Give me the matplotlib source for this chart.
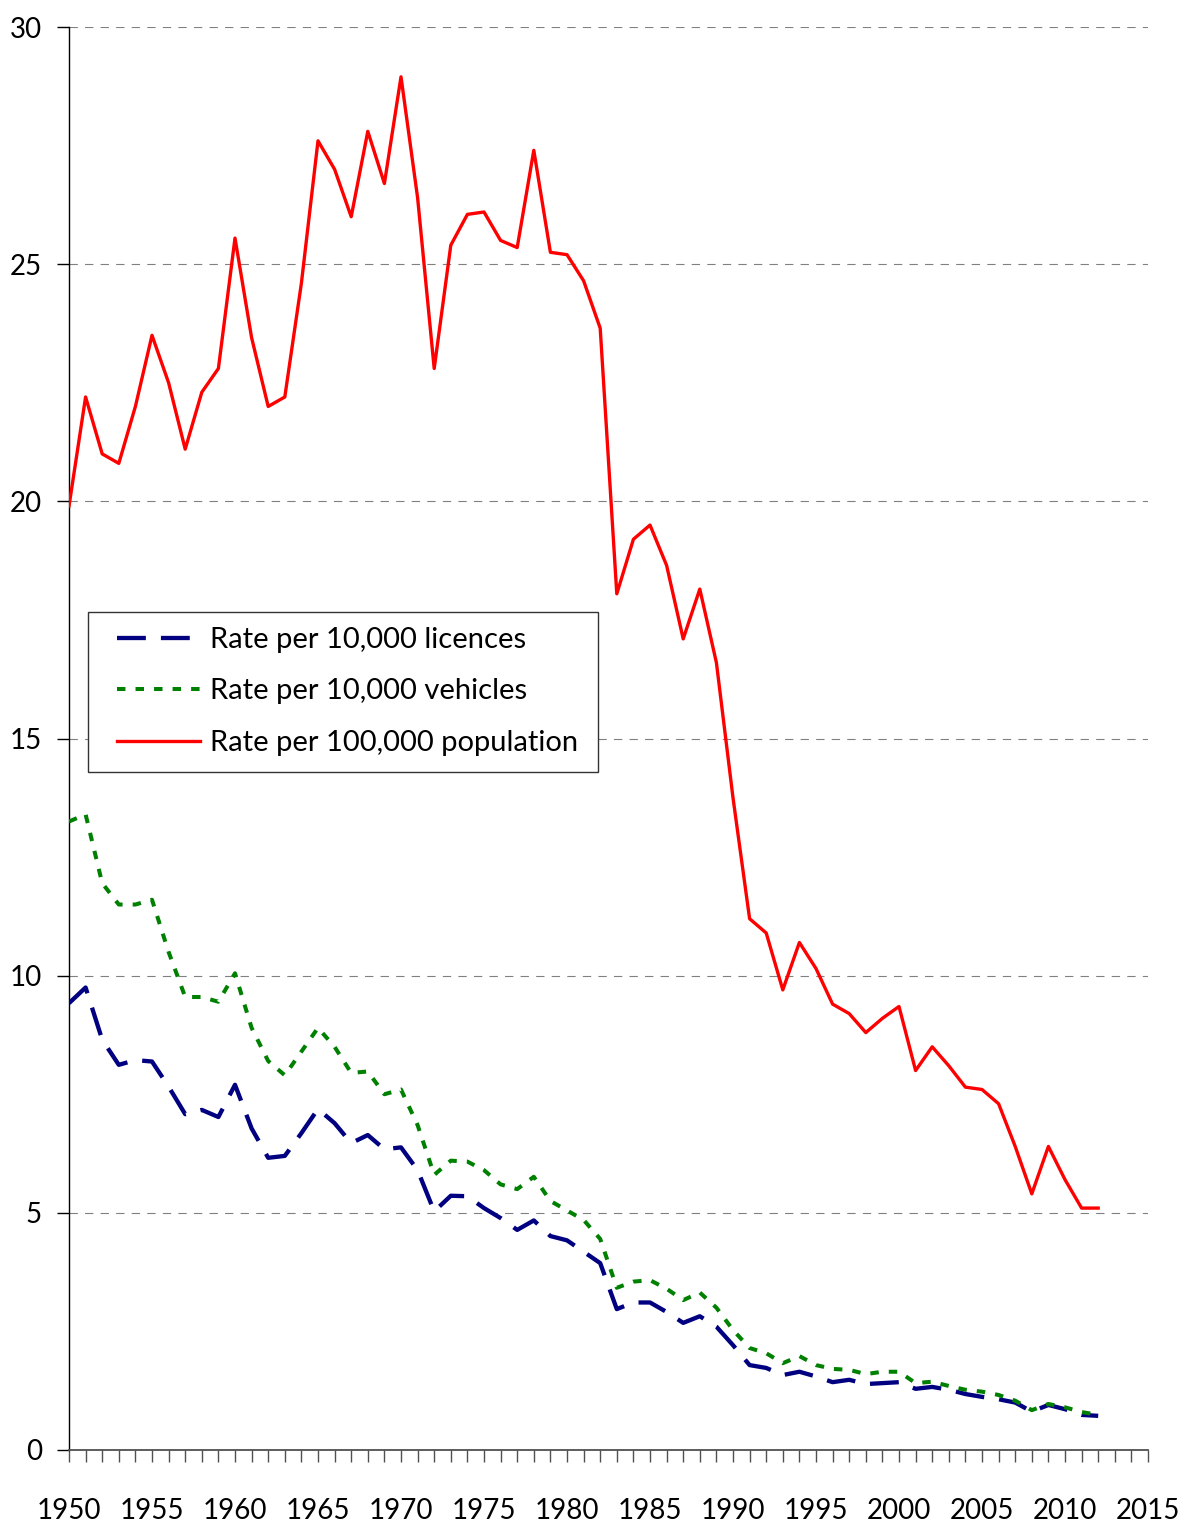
import matplotlib
matplotlib.use("Agg")
import matplotlib.pyplot as plt
from matplotlib.ticker import MultipleLocator
from matplotlib.patches import Rectangle

plt.rcParams['font.family'] = ['Lato', 'DejaVu Sans']

years = list(range(1950, 2013))

licences = [9.42, 9.75, 8.65, 8.12, 8.22, 8.19, 7.66, 7.08, 7.17, 7.02,
            7.70, 6.78, 6.16, 6.20, 6.68, 7.19, 6.89, 6.47, 6.64, 6.34,
            6.38, 5.90, 5.03, 5.36, 5.35, 5.10, 4.89, 4.64, 4.84, 4.51,
            4.42, 4.18, 3.94, 2.97, 3.11, 3.11, 2.91, 2.68, 2.82, 2.60,
            2.21, 1.79, 1.73, 1.58, 1.65, 1.55, 1.43, 1.48, 1.39, 1.41,
            1.43, 1.29, 1.33, 1.27, 1.18, 1.12, 1.07, 1.00, 0.81, 0.95,
            0.86, 0.74, 0.72]

vehicles = [13.25, 13.40, 11.95, 11.50, 11.50, 11.60, 10.50, 9.55, 9.55, 9.45,
            10.05, 8.90, 8.20, 7.90, 8.40, 8.90, 8.50, 7.95, 7.98, 7.50,
            7.60, 6.85, 5.80, 6.10, 6.08, 5.90, 5.60, 5.50, 5.76, 5.25,
            5.05, 4.85, 4.45, 3.42, 3.55, 3.58, 3.40, 3.16, 3.32, 3.00,
            2.53, 2.15, 2.04, 1.83, 1.98, 1.79, 1.71, 1.69, 1.60, 1.65,
            1.65, 1.41, 1.44, 1.35, 1.27, 1.23, 1.16, 1.04, 0.84, 0.97,
            0.90, 0.80, 0.74]

population = [19.9, 22.2, 21.0, 20.8, 22.0, 23.5, 22.5, 21.1, 22.3, 22.8,
              25.55, 23.45, 22.0, 22.2, 24.6, 27.6, 27.0, 26.0, 27.8, 26.7,
              28.95, 26.4, 22.8, 25.4, 26.05, 26.1, 25.5, 25.35, 27.4, 25.25,
              25.2, 24.65, 23.65, 18.05, 19.2, 19.5, 18.65, 17.1, 18.15, 16.6,
              13.75, 11.2, 10.9, 9.7, 10.7, 10.15, 9.4, 9.2, 8.8, 9.1,
              9.35, 8.0, 8.5, 8.1, 7.65, 7.6, 7.3, 6.4, 5.4, 6.4,
              5.7, 5.1, 5.1]

labels = ["Rate per 10,000 licences", "Rate per 10,000 vehicles",
          "Rate per 100,000 population"]

W, H = 1185, 1526
fig = plt.figure(figsize=(W / 100, H / 100), dpi=100)
L, R, T, B = 69, 1148, 27, 1450
ax = fig.add_axes([L / W, 1 - B / H, (R - L) / W, (B - T) / H])

ax.plot(years, licences, color='#000080', lw=3.1,
        linestyle=(0, (6.7, 3.5)), label=labels[0], zorder=3)
ax.plot(years, vehicles, color='#008000', lw=2.9,
        linestyle=(0, (2.1, 2.5)), label=labels[1], zorder=3)
ax.plot(years, population, color='#FF0000', lw=2.4,
        linestyle='-', label=labels[2], zorder=3)

ax.set_xlim(1950, 2015)
ax.set_ylim(0, 30)
ax.xaxis.set_major_locator(MultipleLocator(5))
ax.xaxis.set_minor_locator(MultipleLocator(1))
ax.yaxis.set_major_locator(MultipleLocator(5))

ax.yaxis.grid(True, color='#808080', lw=0.8, linestyle=(0, (7.5, 6.5)))
ax.set_axisbelow(True)

for s in ['top', 'right']:
    ax.spines[s].set_visible(False)
ax.spines['left'].set_color('black')
ax.spines['left'].set_linewidth(1.0)
ax.spines['bottom'].set_color('#505050')
ax.spines['bottom'].set_linewidth(1.3)

ax.tick_params(axis='x', which='both', direction='out', length=8.6,
               width=1.0, color='#505050')
ax.tick_params(axis='x', which='major', pad=26, labelsize=20)
ax.tick_params(axis='y', which='major', direction='out', length=8.6,
               width=1.0, color='black', pad=11, labelsize=20)

# legend frame drawn separately for exact padding
frame = Rectangle((88 / W, 1 - 772 / H), (598 - 88) / W, (772 - 612) / H,
                  transform=fig.transFigure, facecolor='white',
                  edgecolor='#333333', lw=1.0, zorder=4)
fig.add_artist(frame)

leg = fig.legend(*ax.get_legend_handles_labels(), loc='upper left',
                 bbox_to_anchor=(117 / W, 1 - 627 / H),
                 bbox_transform=fig.transFigure,
                 borderaxespad=0, borderpad=0, fontsize=21, frameon=False,
                 handlelength=2.85, handletextpad=0.35, labelspacing=0.87)
leg.set_zorder(5)

fig.savefig('out.png', dpi=100, facecolor='white')
